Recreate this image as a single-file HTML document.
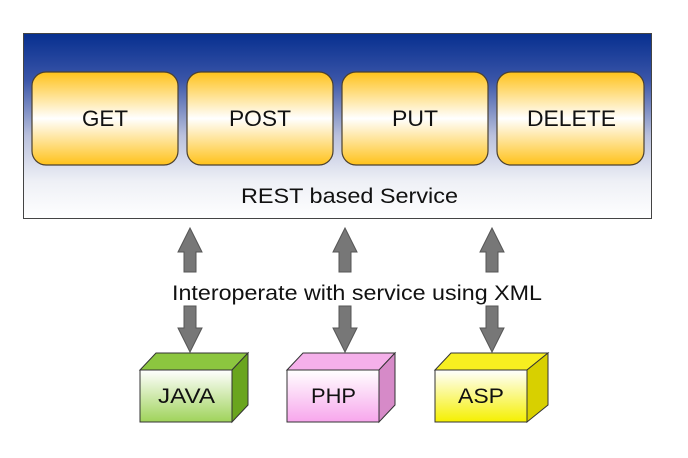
<!DOCTYPE html>
<html><head><meta charset="utf-8"><style>
html,body{margin:0;padding:0;background:#fff;}
svg{display:block;font-family:"Liberation Sans",Arial,sans-serif;}
</style></head><body>
<svg width="688" height="458" viewBox="0 0 688 458" xmlns="http://www.w3.org/2000/svg">
<defs>
<linearGradient id="bg" x1="0" y1="0" x2="0" y2="1">
<stop offset="0" stop-color="#072f8f"/>
<stop offset="0.25" stop-color="#3a55a8"/>
<stop offset="0.55" stop-color="#b9c0dc"/>
<stop offset="0.8" stop-color="#eef0f6"/>
<stop offset="1" stop-color="#ffffff"/>
</linearGradient>
<linearGradient id="btn" x1="0" y1="0" x2="0" y2="1">
<stop offset="0" stop-color="#ffc21a"/>
<stop offset="0.5" stop-color="#ffffff"/>
<stop offset="1" stop-color="#ffc21a"/>
</linearGradient>
<linearGradient id="gj" x1="0" y1="0" x2="0" y2="1"><stop offset="0" stop-color="#ffffff"/><stop offset="1" stop-color="#9fd35a"/></linearGradient>
<linearGradient id="gp" x1="0" y1="0" x2="0" y2="1"><stop offset="0" stop-color="#ffffff"/><stop offset="1" stop-color="#f7a6ec"/></linearGradient>
<linearGradient id="ga" x1="0" y1="0" x2="0" y2="1"><stop offset="0" stop-color="#ffffff"/><stop offset="1" stop-color="#f5f000"/></linearGradient>
</defs>
<rect x="23.5" y="33.5" width="628" height="185" fill="url(#bg)" stroke="#444" stroke-width="1"/>
<g stroke="#4a4030" stroke-width="1.2" fill="url(#btn)">
<rect x="32" y="72" width="146" height="93" rx="14"/>
<rect x="187" y="72" width="146" height="93" rx="14"/>
<rect x="342" y="72" width="146" height="93" rx="14"/>
<rect x="497" y="72" width="147" height="93" rx="14"/>
</g>
<g font-size="22" fill="#111">
<text x="82" y="126" textLength="46" lengthAdjust="spacingAndGlyphs">GET</text>
<text x="229" y="126" textLength="62" lengthAdjust="spacingAndGlyphs">POST</text>
<text x="392" y="126" textLength="46" lengthAdjust="spacingAndGlyphs">PUT</text>
<text x="527" y="126" textLength="89" lengthAdjust="spacingAndGlyphs">DELETE</text>
<text x="241" y="203" font-size="21" textLength="217" lengthAdjust="spacingAndGlyphs">REST based Service</text>
</g>
<g fill="#777" stroke="#555" stroke-width="1">
<path d="M190,228 L202,252 L196,252 L196,272 L184,272 L184,252 L178,252 Z"/>
<path d="M190,352 L202,328 L196,328 L196,306 L184,306 L184,328 L178,328 Z"/>
<path d="M345,228 L357,252 L351,252 L351,272 L339,272 L339,252 L333,252 Z"/>
<path d="M345,352 L357,328 L351,328 L351,306 L339,306 L339,328 L333,328 Z"/>
<path d="M492,228 L504,252 L498,252 L498,272 L486,272 L486,252 L480,252 Z"/>
<path d="M492,352 L504,328 L498,328 L498,306 L486,306 L486,328 L480,328 Z"/>
</g>
<text x="172" y="300" font-size="21" fill="#111" textLength="370" lengthAdjust="spacingAndGlyphs">Interoperate with service using XML</text>
<g stroke="#333" stroke-width="1">
<polygon points="140,370 156,353 248,353 232,370" fill="#8cc63f"/>
<polygon points="232,370 248,353 248,405 232,422" fill="#6aa51e"/>
<rect x="140" y="370" width="92" height="52" fill="url(#gj)"/>
<polygon points="287,370 303,353 395,353 379,370" fill="#f5b0ea"/>
<polygon points="379,370 395,353 395,405 379,422" fill="#d68ac8"/>
<rect x="287" y="370" width="92" height="52" fill="url(#gp)"/>
<polygon points="435,370 451,353 548,353 527,370" fill="#f7ef20"/>
<polygon points="527,370 548,353 548,405 527,422" fill="#d8d000"/>
<rect x="435" y="370" width="92" height="52" fill="url(#ga)"/>
</g>
<g font-size="21" fill="#111">
<text x="158" y="403" textLength="57" lengthAdjust="spacingAndGlyphs">JAVA</text>
<text x="311" y="403" textLength="45" lengthAdjust="spacingAndGlyphs">PHP</text>
<text x="458" y="403" textLength="46" lengthAdjust="spacingAndGlyphs">ASP</text>
</g>
</svg>
</body></html>
